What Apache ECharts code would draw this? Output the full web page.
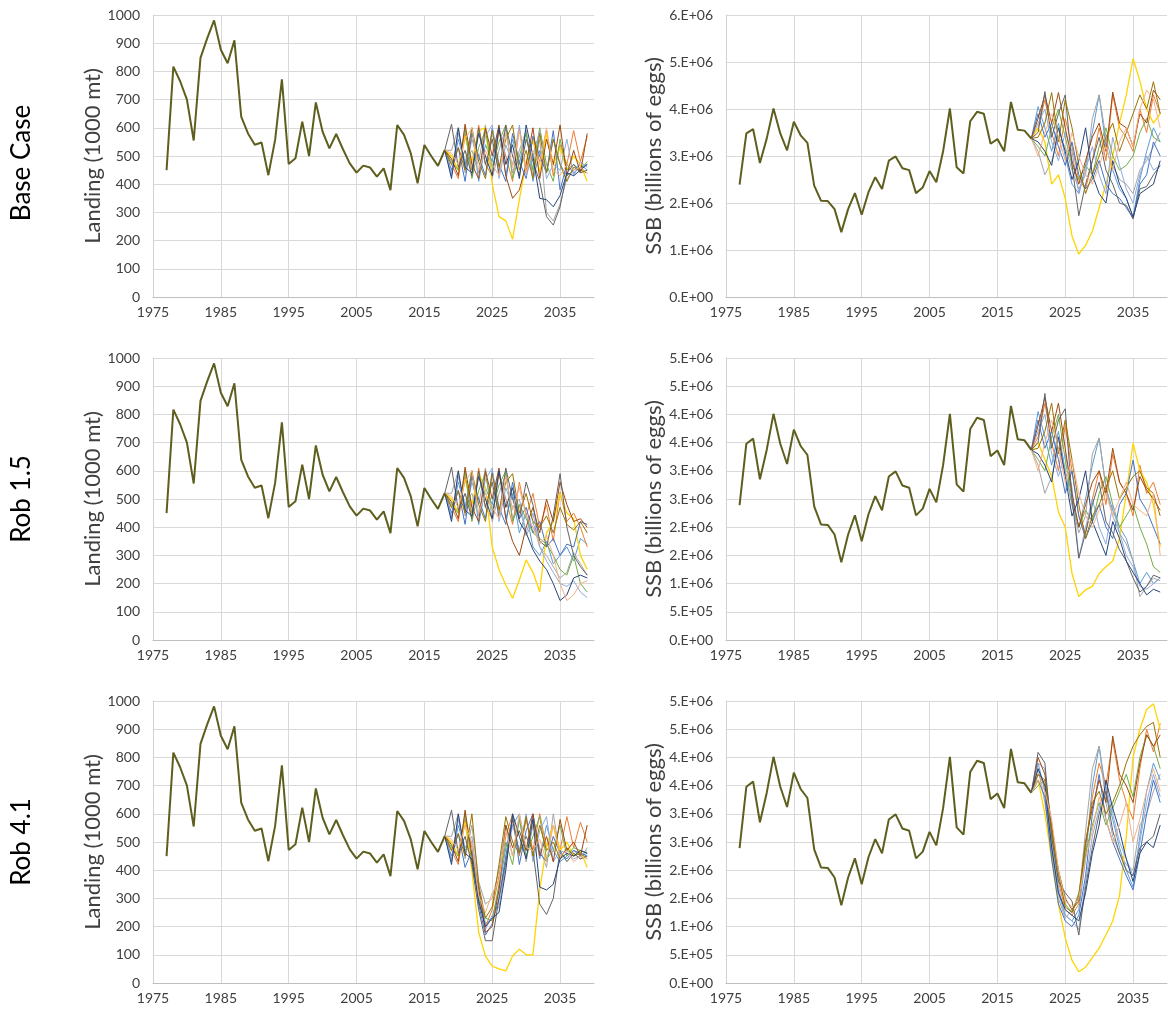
<!DOCTYPE html>
<html>
<head>
<meta charset="utf-8">
<script src="https://cdn.jsdelivr.net/npm/echarts@6/dist/echarts.min.js"></script>
<style>
  html, body { margin: 0; padding: 0; background: #ffffff; }
  #chart { width: 1168px; height: 1025px; }
</style>
</head>
<body>
<div id="chart"></div>
<script>
// ---------------- data ----------------
// Observed landings (1000 mt), 1977-2018
const landHistYears = range(1977, 2018);
const landHist = [450, 817, 765, 700, 555, 848, 918, 981, 877, 829,
                  910, 640, 580, 540, 548, 432, 557, 772, 472, 492,
                  622, 500, 690, 586, 527, 578, 524, 474, 441, 466,
                  459, 427, 456, 379, 610, 575, 509, 403, 539, 500,
                  465, 521];

// Estimated spawning stock biomass (millions of billions of eggs), 1977-2020
const ssbHistYears = range(1977, 2020);
const ssbHist = [2.39, 3.48, 3.57, 2.85, 3.37, 4.01, 3.48, 3.12, 3.73, 3.44,
                 3.28, 2.37, 2.05, 2.04, 1.87, 1.38, 1.87, 2.21, 1.75, 2.23,
                 2.55, 2.30, 2.90, 2.99, 2.74, 2.70, 2.21, 2.33, 2.68, 2.44,
                 3.10, 4.01, 2.76, 2.63, 3.74, 3.94, 3.90, 3.26, 3.36, 3.10,
                 4.15, 3.56, 3.54, 3.37];

// Projection years
const landProjYears = range(2019, 2039);
const ssbProjYears = range(2021, 2039);

// Simulation run colours
const runColors = ['#5B9BD5', '#ED7D31', '#A5A5A5', '#FFD400', '#4472C4', '#70AD47',
                   '#8FAADC', '#9E480E', '#636363', '#997300', '#264478', '#F4B183'];

// Base Case - projected landings
const landBase = [
  [430, 560, 470, 600, 410, 540, 480, 600, 430, 560, 470, 590, 410, 520, 440, 560, 470, 430, 450, 470, 450],
  [470, 420, 580, 450, 610, 470, 430, 590, 500, 410, 600, 450, 560, 480, 590, 430, 540, 470, 590, 480, 570],
  [520, 600, 440, 560, 480, 610, 420, 520, 600, 440, 520, 590, 430, 560, 300, 270, 330, 420, 450, 460, 440],
  [500, 450, 570, 480, 590, 600, 400, 285, 270, 205, 345, 480, 560, 440, 580, 470, 530, 450, 500, 470, 410],
  [450, 530, 410, 580, 500, 430, 600, 470, 410, 580, 480, 420, 570, 500, 440, 590, 380, 470, 440, 460, 470],
  [480, 450, 600, 420, 530, 590, 460, 550, 610, 420, 500, 580, 450, 600, 470, 410, 560, 450, 470, 450, 480],
  [440, 580, 480, 520, 440, 570, 610, 420, 540, 470, 610, 430, 500, 590, 420, 470, 450, 560, 430, 480, 460],
  [490, 430, 613, 470, 420, 600, 500, 610, 430, 350, 380, 470, 600, 420, 560, 470, 610, 430, 520, 440, 580],
  [613, 460, 520, 430, 600, 470, 560, 440, 610, 500, 430, 560, 480, 410, 285, 255, 320, 440, 470, 440, 450],
  [470, 530, 450, 600, 480, 420, 590, 460, 560, 610, 450, 520, 420, 580, 440, 560, 470, 410, 460, 450, 440],
  [420, 600, 460, 440, 580, 500, 430, 600, 470, 540, 420, 610, 500, 350, 345, 320, 360, 440, 430, 450, 470],
  [510, 470, 560, 600, 450, 520, 470, 430, 580, 460, 590, 440, 520, 470, 600, 450, 430, 470, 450, 460, 440]
];

// Base Case - projected SSB
const ssbBase = [
  [4.05, 3.60, 3.10, 3.70, 3.00, 2.40, 2.20, 2.80, 3.50, 4.30, 3.20, 2.70, 2.30, 2.10, 1.70, 2.50, 3.10, 3.60, 3.30],
  [3.60, 4.20, 3.50, 3.00, 3.80, 3.20, 2.50, 2.30, 2.90, 3.60, 2.90, 4.30, 3.60, 3.40, 3.10, 4.00, 3.50, 4.30, 3.90],
  [3.10, 2.60, 2.90, 3.40, 3.20, 2.70, 2.30, 2.60, 3.80, 4.30, 3.40, 2.80, 2.50, 2.40, 2.20, 2.70, 2.90, 3.20, 3.50],
  [3.60, 3.30, 2.40, 2.60, 2.10, 1.30, 0.91, 1.10, 1.40, 1.90, 2.40, 3.00, 3.70, 4.30, 5.07, 4.60, 4.00, 3.70, 3.90],
  [3.90, 3.40, 3.70, 3.20, 2.80, 3.30, 2.60, 2.30, 2.50, 2.90, 2.40, 2.20, 2.10, 1.90, 1.68, 2.40, 2.60, 3.30, 3.00],
  [3.20, 3.00, 3.60, 4.00, 3.40, 2.80, 2.50, 2.80, 2.60, 3.20, 3.60, 3.00, 2.70, 2.80, 3.00, 3.50, 3.80, 3.40, 3.30],
  [3.70, 4.00, 3.30, 2.90, 3.50, 3.10, 2.20, 2.70, 3.20, 2.60, 2.20, 3.40, 2.80, 2.30, 2.00, 2.60, 3.00, 2.70, 2.80],
  [3.80, 4.30, 3.70, 4.35, 3.60, 2.90, 2.40, 2.90, 3.40, 3.70, 3.10, 4.36, 3.70, 3.60, 3.20, 3.90, 3.70, 4.40, 4.20],
  [3.50, 4.37, 3.40, 3.90, 4.30, 2.80, 1.73, 2.40, 2.90, 3.40, 2.70, 2.40, 2.00, 1.95, 1.66, 2.30, 2.35, 2.60, 2.80],
  [3.40, 3.70, 4.35, 3.30, 4.20, 3.60, 2.80, 2.20, 2.60, 3.00, 3.40, 3.70, 3.10, 3.50, 3.90, 4.30, 4.00, 4.58, 3.90],
  [3.30, 3.10, 2.80, 3.60, 3.10, 2.50, 2.90, 3.60, 2.60, 2.20, 2.00, 2.90, 2.40, 2.10, 1.70, 2.20, 2.30, 2.40, 2.90],
  [3.00, 3.50, 3.90, 3.40, 2.90, 3.50, 3.00, 2.60, 2.40, 2.80, 3.20, 2.70, 3.30, 3.60, 3.20, 4.00, 4.40, 4.20, 3.60]
];

// Rob 1.5 - projected landings
const landRob15 = [
  [430, 560, 470, 600, 410, 540, 480, 600, 430, 520, 380, 450, 330, 300, 350, 270, 300, 330, 280, 360, 340],
  [470, 420, 580, 450, 610, 470, 430, 590, 500, 410, 560, 440, 520, 400, 480, 350, 525, 420, 450, 400, 330],
  [520, 600, 440, 560, 480, 610, 420, 520, 590, 430, 480, 370, 420, 330, 300, 260, 220, 240, 310, 270, 230],
  [500, 450, 570, 480, 590, 540, 330, 250, 195, 148, 213, 284, 240, 171, 380, 420, 520, 450, 430, 300, 250],
  [450, 530, 410, 580, 500, 430, 600, 470, 410, 560, 430, 470, 380, 420, 330, 360, 300, 340, 330, 420, 410],
  [480, 450, 600, 420, 530, 590, 460, 550, 600, 420, 480, 430, 380, 360, 340, 300, 250, 230, 300, 200, 170],
  [440, 580, 480, 520, 440, 570, 610, 420, 540, 470, 500, 380, 450, 330, 280, 240, 200, 190, 210, 170, 150],
  [490, 430, 613, 470, 420, 600, 500, 610, 430, 350, 300, 400, 470, 380, 500, 420, 560, 480, 420, 430, 400],
  [613, 460, 520, 430, 600, 470, 560, 440, 610, 500, 430, 560, 480, 350, 330, 440, 590, 400, 300, 260, 230],
  [470, 530, 450, 600, 480, 420, 590, 460, 560, 590, 450, 520, 420, 400, 440, 380, 470, 410, 390, 420, 380],
  [420, 600, 460, 440, 580, 500, 430, 600, 470, 540, 420, 380, 320, 280, 250, 200, 140, 160, 220, 230, 220],
  [510, 470, 560, 600, 450, 520, 470, 430, 580, 460, 540, 440, 400, 340, 370, 300, 200, 140, 160, 200, 210]
];

// Rob 1.5 - projected SSB
const ssbRob15 = [
  [4.05, 3.60, 3.10, 3.70, 3.00, 2.40, 2.00, 2.50, 3.10, 3.58, 2.70, 2.30, 2.00, 1.80, 1.40, 1.00, 1.20, 1.00, 1.10],
  [3.60, 4.20, 3.50, 3.00, 3.80, 3.00, 2.20, 1.90, 2.50, 3.00, 2.40, 3.30, 2.80, 2.60, 2.20, 3.10, 2.60, 2.80, 2.40],
  [3.10, 2.60, 2.90, 3.40, 3.00, 2.40, 1.90, 2.20, 3.30, 3.58, 2.70, 2.20, 1.90, 1.70, 1.40, 0.77, 0.95, 1.10, 1.05],
  [3.50, 3.20, 2.90, 2.27, 2.00, 1.18, 0.77, 0.89, 0.95, 1.18, 1.30, 1.40, 1.80, 2.60, 3.49, 3.00, 2.80, 2.40, 1.65],
  [3.90, 3.40, 3.70, 3.20, 2.60, 3.00, 2.20, 1.80, 2.10, 2.40, 2.00, 1.80, 2.40, 2.60, 3.19, 2.50, 2.30, 2.00, 1.70],
  [3.20, 3.00, 3.60, 4.00, 3.20, 2.50, 2.00, 2.30, 2.10, 2.60, 2.90, 2.40, 2.00, 2.20, 2.40, 2.00, 1.70, 1.30, 1.20],
  [3.70, 4.00, 3.30, 2.90, 3.30, 2.70, 1.45, 2.00, 2.50, 2.00, 1.70, 2.40, 1.90, 1.50, 1.30, 0.95, 0.90, 1.00, 1.10],
  [3.80, 4.30, 3.70, 4.20, 3.40, 2.60, 2.00, 2.40, 2.80, 3.00, 2.60, 3.40, 2.80, 2.60, 2.30, 2.90, 2.66, 2.50, 2.30],
  [3.50, 4.37, 3.40, 3.90, 4.10, 2.50, 1.45, 1.90, 2.40, 2.80, 2.10, 1.90, 1.60, 1.40, 1.10, 0.85, 0.95, 1.15, 1.10],
  [3.40, 3.70, 4.20, 3.30, 3.90, 3.20, 2.40, 1.80, 2.20, 2.40, 2.70, 3.00, 2.50, 2.70, 2.90, 3.00, 2.70, 2.60, 2.20],
  [3.30, 3.10, 2.80, 3.60, 2.90, 2.20, 2.50, 3.00, 2.10, 1.80, 1.50, 2.10, 1.80, 1.40, 1.20, 1.00, 0.80, 0.90, 0.85],
  [3.00, 3.50, 3.90, 3.40, 2.80, 3.20, 2.60, 2.20, 2.00, 2.30, 2.60, 2.20, 2.50, 2.80, 2.40, 2.30, 2.20, 2.60, 1.50]
];

// Rob 4.1 - projected landings
const landRob41 = [
  [430, 560, 470, 500, 330, 210, 230, 330, 480, 560, 600, 470, 590, 440, 560, 470, 430, 450, 470, 450, 460],
  [470, 420, 580, 480, 300, 200, 260, 380, 520, 600, 450, 580, 470, 600, 480, 560, 470, 590, 480, 570, 500],
  [520, 600, 440, 560, 360, 280, 300, 400, 560, 450, 590, 430, 560, 480, 410, 600, 450, 470, 460, 440, 480],
  [500, 450, 570, 400, 180, 95, 60, 50, 43, 96, 120, 100, 100, 330, 485, 560, 470, 500, 450, 470, 410],
  [450, 530, 410, 470, 280, 170, 210, 300, 450, 590, 420, 540, 600, 460, 430, 520, 460, 440, 470, 460, 450],
  [480, 450, 600, 430, 300, 230, 220, 350, 500, 420, 580, 450, 520, 590, 440, 470, 560, 450, 480, 470, 460],
  [440, 580, 480, 520, 320, 190, 240, 270, 420, 560, 470, 600, 430, 540, 590, 430, 470, 460, 440, 450, 470],
  [490, 430, 613, 450, 340, 180, 200, 330, 560, 480, 540, 470, 600, 450, 520, 430, 580, 470, 500, 450, 560],
  [613, 460, 520, 420, 260, 150, 150, 300, 430, 580, 460, 520, 470, 280, 243, 300, 470, 430, 460, 440, 450],
  [470, 530, 450, 600, 350, 230, 270, 420, 590, 500, 460, 590, 450, 560, 470, 500, 440, 480, 450, 460, 440],
  [420, 600, 460, 440, 290, 200, 230, 250, 400, 600, 520, 440, 580, 340, 330, 350, 440, 460, 450, 470, 460],
  [510, 470, 560, 500, 310, 250, 320, 360, 540, 450, 600, 480, 470, 510, 430, 560, 450, 470, 430, 450, 440]
];

// Rob 4.1 - projected SSB
const ssbRob41 = [
  [3.90, 3.40, 2.40, 1.60, 1.20, 1.10, 1.30, 2.20, 3.50, 4.20, 3.40, 2.90, 2.40, 2.00, 1.70, 2.60, 3.40, 3.90, 3.60],
  [3.70, 3.50, 2.60, 1.80, 1.30, 1.20, 1.40, 2.40, 3.30, 3.90, 3.50, 4.30, 3.60, 3.20, 2.90, 3.80, 4.50, 4.10, 4.60],
  [3.80, 3.20, 2.30, 1.50, 1.15, 1.30, 1.50, 2.70, 3.80, 4.20, 3.20, 2.60, 2.30, 2.10, 2.00, 2.80, 3.00, 3.40, 3.70],
  [3.60, 3.00, 2.20, 1.40, 0.80, 0.40, 0.20, 0.28, 0.45, 0.62, 0.85, 1.10, 1.55, 2.60, 4.00, 4.50, 4.85, 4.95, 4.50],
  [3.60, 3.30, 2.20, 1.40, 1.10, 1.00, 1.20, 1.90, 3.00, 3.70, 2.90, 2.50, 2.20, 1.90, 1.65, 2.30, 3.00, 3.60, 3.20],
  [3.50, 3.60, 2.70, 1.90, 1.40, 1.25, 1.60, 2.30, 2.80, 3.20, 2.80, 3.10, 3.40, 3.70, 3.30, 4.00, 4.40, 4.20, 3.80],
  [3.90, 3.80, 2.50, 1.70, 1.20, 1.10, 0.95, 1.80, 2.60, 3.10, 3.50, 3.00, 2.50, 2.20, 1.90, 2.50, 3.20, 3.70, 3.30],
  [4.00, 3.70, 2.80, 2.00, 1.50, 1.30, 1.45, 2.50, 3.10, 3.60, 3.20, 4.38, 3.70, 3.50, 3.20, 3.90, 4.40, 4.20, 4.40],
  [4.09, 3.90, 2.60, 1.80, 1.60, 1.45, 0.85, 1.70, 2.40, 3.00, 3.40, 2.70, 2.30, 2.00, 1.90, 2.40, 2.50, 2.60, 3.00],
  [3.70, 3.60, 2.70, 1.95, 1.35, 1.25, 1.55, 2.50, 3.20, 3.40, 3.00, 3.20, 3.50, 3.90, 4.20, 4.40, 4.55, 4.62, 4.00],
  [3.80, 3.50, 2.40, 1.60, 1.30, 1.20, 1.10, 1.60, 2.30, 2.80, 3.60, 3.10, 2.70, 2.20, 1.80, 2.30, 2.50, 2.40, 2.80],
  [3.60, 3.40, 2.90, 2.00, 1.45, 1.35, 1.50, 2.20, 2.70, 3.30, 2.90, 2.50, 2.80, 3.20, 2.50, 2.90, 3.40, 3.80, 3.40]
];

const rowLabels = ['Base Case', 'Rob 1.5', 'Rob 4.1'];
const landRuns = [landBase, landRob15, landRob41];
const ssbRuns = [ssbBase, ssbRob15, ssbRob41];
// SSB axis maximum / step for each row (millions)
const ssbMax = [6, 5, 5];
const ssbStep = [1, 0.5, 0.5];

// ---------------- helpers ----------------
function range(a, b) {
  const out = [];
  for (let y = a; y <= b; y++) out.push(y);
  return out;
}

// Excel-like "0.E+00" number format; axis values are in millions
function sciLabel(v) {
  const x = v * 1e6;
  if (x === 0) return '0.E+00';
  let e = Math.floor(Math.log10(x) + 1e-9);
  let m = Math.round(x / Math.pow(10, e) + 1e-9);
  if (m >= 10) { m = 1; e += 1; }
  return m + '.E+' + String(e).padStart(2, '0');
}

const FONT = 'Lato';
const TICK_COLOR = '#404040';
const GRID_COLOR = '#d9d9d9';
const HIST_COLOR = '#5e5e1e';

const rowTops = [15, 358, 701];
const plotH = 282;
const leftX = 153, rightX = 726, plotW = 441;

const grids = [], xAxes = [], yAxes = [], series = [];

function addPanel(idx, left, top, yMax, yStep, yName, nameGap, fmt) {
  grids.push({ left: left, top: top, width: plotW, height: plotH, containLabel: false });
  xAxes.push({
    type: 'value', gridIndex: idx, min: 1975, max: 2040, interval: 10,
    axisLine: { show: true, lineStyle: { color: '#bfbfbf', width: 1 } },
    axisTick: { show: false },
    axisLabel: { color: TICK_COLOR, fontFamily: FONT, fontSize: 14, margin: 8, showMaxLabel: false,
                 formatter: v => String(v) },
    splitLine: { show: true, showMaxLine: false, lineStyle: { color: GRID_COLOR, width: 1 } }
  });
  yAxes.push({
    type: 'value', gridIndex: idx, min: 0, max: yMax, interval: yStep,
    name: yName, nameLocation: 'middle', nameGap: nameGap, nameRotate: 90,
    nameTextStyle: { color: TICK_COLOR, fontFamily: FONT, fontSize: 22 },
    axisLine: { show: true, lineStyle: { color: '#d0d0d0', width: 1 } },
    axisTick: { show: false },
    axisLabel: { color: TICK_COLOR, fontFamily: FONT, fontSize: 14, margin: 13, formatter: fmt },
    splitLine: { show: true, lineStyle: { color: GRID_COLOR, width: 1 } }
  });
}

function lineSeries(idx, pts, color, width, z) {
  return {
    type: 'line', xAxisIndex: idx, yAxisIndex: idx, data: pts,
    symbol: 'none', silent: true, z: z,
    lineStyle: { color: color, width: width, opacity: 1 },
    itemStyle: { color: color }
  };
}

for (let r = 0; r < 3; r++) {
  const li = r * 2, si = r * 2 + 1;
  addPanel(li, leftX, rowTops[r], 1000, 100, 'Landing (1000 mt)', 46, v => String(v));
  addPanel(si, rightX, rowTops[r], ssbMax[r], ssbStep[r], 'SSB (billions of eggs)', 61, sciLabel);

  // landings: history then simulation runs branching from the last observed year
  const lLast = [landHistYears[landHistYears.length - 1], landHist[landHist.length - 1]];
  landRuns[r].forEach((run, k) => {
    const pts = [lLast].concat(landProjYears.map((y, i) => [y, run[i]]));
    series.push(lineSeries(li, pts, runColors[k], k === 3 ? 1.3 : 1, 2));
  });
  series.push(lineSeries(li, landHistYears.map((y, i) => [y, landHist[i]]), HIST_COLOR, 2, 3));

  // SSB: history then simulation runs
  const sLast = [ssbHistYears[ssbHistYears.length - 1], ssbHist[ssbHist.length - 1]];
  ssbRuns[r].forEach((run, k) => {
    const pts = [sLast].concat(ssbProjYears.map((y, i) => [y, run[i]]));
    series.push(lineSeries(si, pts, runColors[k], k === 3 ? 1.3 : 1, 2));
  });
  series.push(lineSeries(si, ssbHistYears.map((y, i) => [y, ssbHist[i]]), HIST_COLOR, 2, 3));
}

// row titles on the far left
const rowCenters = [163, 499, 842];
const graphics = rowLabels.map((t, r) => ({
  type: 'text', x: 22, y: rowCenters[r], rotation: Math.PI / 2,
  style: { text: t, fill: '#000000', font: '26px ' + FONT, textAlign: 'center', textVerticalAlign: 'middle' }
}));

const chart = echarts.init(document.getElementById('chart'), null, { renderer: 'canvas' });
chart.setOption({
  animation: false,
  backgroundColor: '#ffffff',
  grid: grids,
  xAxis: xAxes,
  yAxis: yAxes,
  series: series,
  graphic: graphics
});
</script>
</body>
</html>
